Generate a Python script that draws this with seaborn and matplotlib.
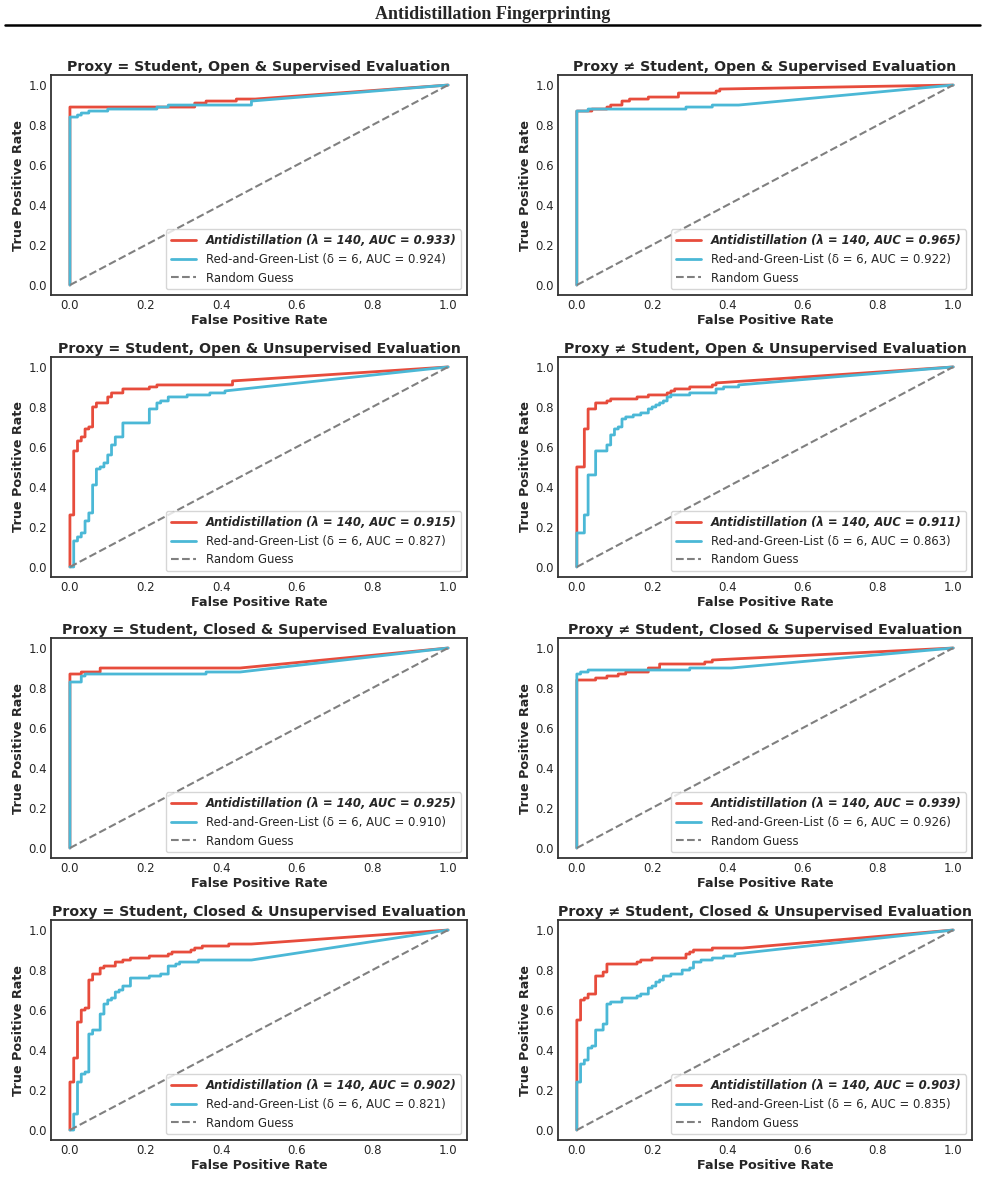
import matplotlib
matplotlib.use("Agg")
import matplotlib.pyplot as plt
import seaborn as sns

# panel titles and AUC values
titles = [
    "Proxy = Student, Open & Supervised Evaluation",
    "Proxy ≠ Student, Open & Supervised Evaluation",
    "Proxy = Student, Open & Unsupervised Evaluation",
    "Proxy ≠ Student, Open & Unsupervised Evaluation",
    "Proxy = Student, Closed & Supervised Evaluation",
    "Proxy ≠ Student, Closed & Supervised Evaluation",
    "Proxy = Student, Closed & Unsupervised Evaluation",
    "Proxy ≠ Student, Closed & Unsupervised Evaluation",
]
auc_ad = [0.933, 0.965, 0.915, 0.911, 0.925, 0.939, 0.902, 0.903]
auc_rg = [0.924, 0.922, 0.827, 0.863, 0.910, 0.926, 0.821, 0.835]

# ROC step points (fpr where tpr jumps, tpr level after the jump)
p1_ad_x = [0, 0.33, 0.36, 0.44, 0.49]
p1_ad_y = [0.89, 0.91, 0.92, 0.93, 0.93]
p1_rg_x = [0, 0.02, 0.03, 0.05, 0.10, 0.23, 0.26, 0.48]
p1_rg_y = [0.84, 0.85, 0.86, 0.87, 0.88, 0.89, 0.90, 0.92]

p2_ad_x = [0, 0.04, 0.08, 0.09, 0.12, 0.14, 0.19, 0.27, 0.37, 0.38]
p2_ad_y = [0.87, 0.88, 0.89, 0.90, 0.92, 0.93, 0.94, 0.96, 0.97, 0.98]
p2_rg_x = [0, 0.03, 0.29, 0.36, 0.43]
p2_rg_y = [0.87, 0.88, 0.89, 0.90, 0.90]

p3_ad_x = [0, 0.01, 0.02, 0.03, 0.04, 0.05, 0.06, 0.07, 0.10, 0.11, 0.14, 0.21, 0.23, 0.43]
p3_ad_y = [0.26, 0.58, 0.63, 0.65, 0.69, 0.70, 0.80, 0.82, 0.85, 0.87, 0.89, 0.90, 0.91, 0.93]
p3_rg_x = [0, 0.01, 0.02, 0.03, 0.04, 0.05, 0.06, 0.07, 0.08, 0.09, 0.10, 0.11, 0.12, 0.14,
           0.21, 0.23, 0.24, 0.26, 0.31, 0.37, 0.41]
p3_rg_y = [0.0, 0.13, 0.15, 0.17, 0.23, 0.27, 0.41, 0.49, 0.50, 0.52, 0.56, 0.61, 0.65, 0.72,
           0.79, 0.82, 0.83, 0.85, 0.86, 0.87, 0.88]

p4_ad_x = [0, 0.02, 0.03, 0.05, 0.08, 0.09, 0.16, 0.19, 0.24, 0.25, 0.26, 0.30, 0.36, 0.37]
p4_ad_y = [0.50, 0.69, 0.79, 0.82, 0.83, 0.84, 0.85, 0.86, 0.87, 0.88, 0.89, 0.90, 0.91, 0.92]
p4_rg_x = [0, 0.02, 0.03, 0.05, 0.08, 0.09, 0.10, 0.11, 0.12, 0.13, 0.15, 0.17, 0.19, 0.20,
           0.21, 0.22, 0.23, 0.24, 0.25, 0.30, 0.37, 0.39, 0.43]
p4_rg_y = [0.17, 0.26, 0.46, 0.58, 0.61, 0.66, 0.69, 0.70, 0.74, 0.75, 0.76, 0.77, 0.79, 0.80,
           0.81, 0.82, 0.83, 0.85, 0.86, 0.87, 0.89, 0.90, 0.91]

p5_ad_x = [0, 0.03, 0.08, 0.45]
p5_ad_y = [0.87, 0.88, 0.90, 0.90]
p5_rg_x = [0, 0.03, 0.04, 0.36, 0.45]
p5_rg_y = [0.83, 0.86, 0.87, 0.88, 0.88]

p6_ad_x = [0, 0.05, 0.08, 0.11, 0.13, 0.19, 0.22, 0.34, 0.36]
p6_ad_y = [0.84, 0.85, 0.86, 0.87, 0.88, 0.90, 0.92, 0.93, 0.94]
p6_rg_x = [0, 0.01, 0.03, 0.30, 0.41]
p6_rg_y = [0.87, 0.88, 0.89, 0.90, 0.90]

p7_ad_x = [0, 0.01, 0.02, 0.03, 0.04, 0.05, 0.06, 0.08, 0.09, 0.12, 0.14, 0.16, 0.21, 0.26,
           0.27, 0.32, 0.33, 0.35, 0.42, 0.48]
p7_ad_y = [0.24, 0.36, 0.54, 0.60, 0.61, 0.75, 0.78, 0.81, 0.82, 0.84, 0.85, 0.86, 0.87, 0.88,
           0.89, 0.90, 0.91, 0.92, 0.93, 0.93]
p7_rg_x = [0, 0.01, 0.02, 0.03, 0.04, 0.05, 0.06, 0.08, 0.09, 0.10, 0.11, 0.12, 0.13, 0.14,
           0.16, 0.21, 0.24, 0.26, 0.28, 0.29, 0.34, 0.48]
p7_rg_y = [0.0, 0.08, 0.24, 0.28, 0.29, 0.48, 0.50, 0.58, 0.63, 0.65, 0.66, 0.69, 0.70, 0.72,
           0.76, 0.77, 0.78, 0.82, 0.83, 0.84, 0.85, 0.85]

p8_ad_x = [0, 0.01, 0.02, 0.03, 0.05, 0.07, 0.08, 0.16, 0.17, 0.20, 0.29, 0.30, 0.31, 0.36, 0.44]
p8_ad_y = [0.55, 0.65, 0.66, 0.68, 0.77, 0.79, 0.83, 0.84, 0.85, 0.86, 0.88, 0.89, 0.90, 0.91, 0.91]
p8_rg_x = [0, 0.01, 0.02, 0.03, 0.04, 0.05, 0.07, 0.08, 0.09, 0.12, 0.16, 0.17, 0.19, 0.20,
           0.21, 0.22, 0.23, 0.25, 0.28, 0.30, 0.31, 0.33, 0.36, 0.39, 0.42]
p8_rg_y = [0.24, 0.33, 0.35, 0.41, 0.42, 0.50, 0.53, 0.63, 0.64, 0.66, 0.67, 0.68, 0.71, 0.72,
           0.74, 0.75, 0.77, 0.78, 0.80, 0.81, 0.84, 0.85, 0.86, 0.87, 0.88]

ad_x = [p1_ad_x, p2_ad_x, p3_ad_x, p4_ad_x, p5_ad_x, p6_ad_x, p7_ad_x, p8_ad_x]
ad_y = [p1_ad_y, p2_ad_y, p3_ad_y, p4_ad_y, p5_ad_y, p6_ad_y, p7_ad_y, p8_ad_y]
rg_x = [p1_rg_x, p2_rg_x, p3_rg_x, p4_rg_x, p5_rg_x, p6_rg_x, p7_rg_x, p8_rg_x]
rg_y = [p1_rg_y, p2_rg_y, p3_rg_y, p4_rg_y, p5_rg_y, p6_rg_y, p7_rg_y, p8_rg_y]

RED = "#E74C3C"
BLUE = "#4BB8D6"


def staircase(xs, ys):
    # ROC corners: horizontal then vertical, last point joins (1, 1)
    fx, fy = [0.0], [0.0]
    prev = 0.0
    for x, y in zip(xs, ys):
        fx += [x, x]
        fy += [prev, y]
        prev = y
    fx.append(1.0)
    fy.append(1.0)
    return fx, fy


sns.set_style("white")
plt.rcParams["font.family"] = ["DejaVu Sans"]

fig = plt.figure(figsize=(9.85, 11.95), dpi=100)

fig.text(0.5, 0.988, "Antidistillation Fingerprinting", ha="center", va="center",
         family="Liberation Serif", fontweight="bold", fontsize=13)
fig.add_artist(plt.Line2D([0.005, 0.995], [0.979, 0.979], color="black", lw=1.8,
                          transform=fig.transFigure))

lefts = [0.0518, 0.5665]
widths = [0.4223, 0.4203]
bottoms = [0.7531, 0.5172, 0.2820, 0.0460]
height = 0.1841

for i in range(8):
    r, c = divmod(i, 2)
    ax = fig.add_axes([lefts[c], bottoms[r], widths[c], height])
    x1, y1 = staircase(ad_x[i], ad_y[i])
    x2, y2 = staircase(rg_x[i], rg_y[i])
    sns.lineplot(x=x1, y=y1, sort=False, estimator=None, color=RED, lw=2, ax=ax,
                 label=f"Antidistillation (λ = 140, AUC = {auc_ad[i]:.3f})")
    sns.lineplot(x=x2, y=y2, sort=False, estimator=None, color=BLUE, lw=2, ax=ax,
                 label=f"Red-and-Green-List (δ = 6, AUC = {auc_rg[i]:.3f})")
    sns.lineplot(x=[0, 1], y=[0, 1], color="gray", lw=1.5, linestyle="--", ax=ax,
                 label="Random Guess")
    ax.set_xlim(-0.05, 1.05)
    ax.set_ylim(-0.05, 1.05)
    ax.set_xticks([0, 0.2, 0.4, 0.6, 0.8, 1.0])
    ax.set_yticks([0, 0.2, 0.4, 0.6, 0.8, 1.0])
    ax.tick_params(labelsize=8.5, length=0, pad=3)
    for s in ax.spines.values():
        s.set_linewidth(1.3)
        s.set_color("0.2")
    ax.set_title(titles[i], fontsize=10.2, fontweight="bold", pad=3)
    ax.set_xlabel("False Positive Rate", fontsize=9.2, fontweight="bold", labelpad=1)
    ax.set_ylabel("True Positive Rate", fontsize=9.2, fontweight="bold", labelpad=2)
    leg = ax.legend(loc="lower right", fontsize=8.4, frameon=True, handlelength=2.2)
    leg.get_texts()[0].set_fontweight("bold")
    leg.get_texts()[0].set_fontstyle("italic")

fig.savefig("out.png", dpi=100)
